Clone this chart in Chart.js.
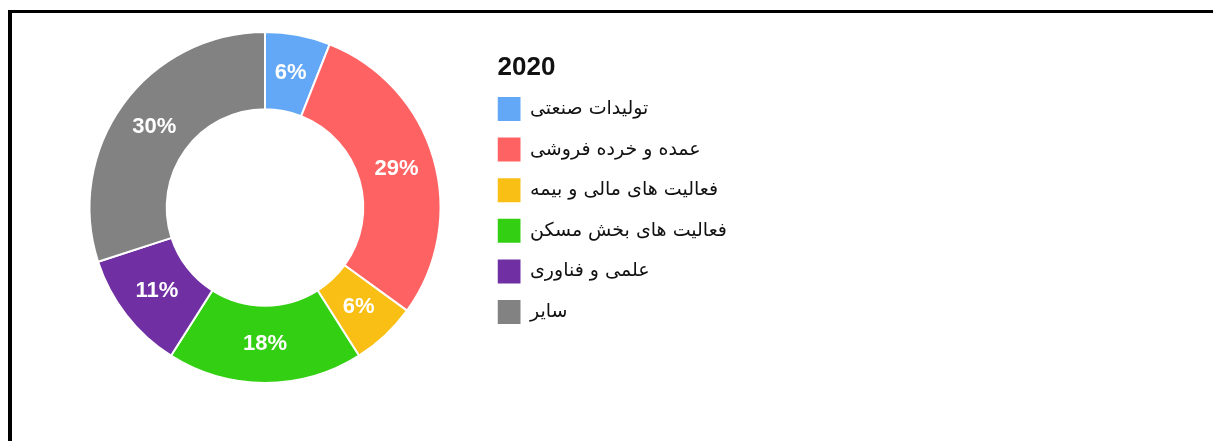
<!DOCTYPE html>
<html>
<head>
<meta charset="utf-8">
<script src="https://cdn.jsdelivr.net/npm/chart.js@4.4.0/dist/chart.umd.min.js"></script>
<style>
  html, body { margin: 0; padding: 0; background: #fff; }
  #frame { position: absolute; left: 8px; top: 10px; right: 0; bottom: 0; border-left: 4px solid #000; border-top: 3px solid #000; }
  #wrap { position: absolute; left: 0; top: 0; width: 1213px; height: 441px; }
</style>
</head>
<body>
<div id="frame"></div>
<div id="wrap"><canvas id="sectors"></canvas></div>
<script>
// sectors, share in percent, year 2020
const sectorNames = [
  'تولیدات صنعتی',
  'عمده و خرده فروشی',
  'فعالیت های مالی و بیمه',
  'فعالیت های بخش مسکن',
  'علمی و فناوری',
  'سایر'
];
const shares = [6, 29, 6, 18, 11, 30];
const sliceColors = ['#62a8f7', '#ff6262', '#f9bf14', '#33cf12', '#7030a3', '#828282'];
const yearTitle = '2020';

const labelFont = { family: '"DejaVu Sans", sans-serif', size: 19, lineHeight: 40.6 / 19 };

// the legend sits at the right of the chart area, so the right padding
// depends on how wide the longest label is
const measure = document.createElement('canvas').getContext('2d');
measure.font = labelFont.size + 'px ' + labelFont.family;
const longest = Math.max(...sectorNames.map(s => measure.measureText(s).width));
const legendWidth = longest + 23 + labelFont.size / 2 + 10;

// white % text in the middle of every slice
const percentLabels = {
  id: 'percentLabels',
  afterDatasetsDraw(chart) {
    const ctx = chart.ctx;
    const meta = chart.getDatasetMeta(0);
    ctx.save();
    ctx.font = 'bold 22px "Liberation Sans", Arial, sans-serif';
    ctx.fillStyle = '#ffffff';
    ctx.textAlign = 'center';
    ctx.textBaseline = 'middle';
    meta.data.forEach((arc, i) => {
      const p = arc.tooltipPosition();
      ctx.fillText(shares[i] + '%', p.x, p.y);
    });
    ctx.restore();
  }
};

new Chart(document.getElementById('sectors'), {
  type: 'doughnut',
  data: {
    labels: sectorNames,
    datasets: [{
      data: shares,
      backgroundColor: sliceColors,
      borderColor: '#ffffff',
      borderWidth: 2,
      hoverOffset: 0
    }]
  },
  options: {
    responsive: true,
    maintainAspectRatio: false,
    animation: false,
    cutout: '56%',
    layout: {
      padding: { left: 32.5, right: 1213 - 497.5 - legendWidth, top: 31, bottom: 57 }
    },
    plugins: {
      tooltip: { enabled: false },
      legend: {
        position: 'right',
        align: 'start',
        title: {
          display: true,
          text: yearTitle,
          position: 'start',
          color: '#111111',
          font: { family: '"Liberation Sans", Arial, sans-serif', size: 26, weight: 'bold', lineHeight: 1 },
          padding: { top: 24, bottom: 16 }
        },
        labels: {
          boxWidth: 23,
          boxHeight: 24,
          padding: 0,
          color: '#111111',
          font: labelFont,
          generateLabels(chart) {
            const items = Chart.overrides.doughnut.plugins.legend.labels.generateLabels(chart);
            // one-line arrays: the row step then follows the font lineHeight
            items.forEach(it => { it.lineWidth = 0; it.text = [it.text]; });
            return items;
          }
        }
      }
    }
  },
  plugins: [percentLabels]
});
</script>
</body>
</html>
